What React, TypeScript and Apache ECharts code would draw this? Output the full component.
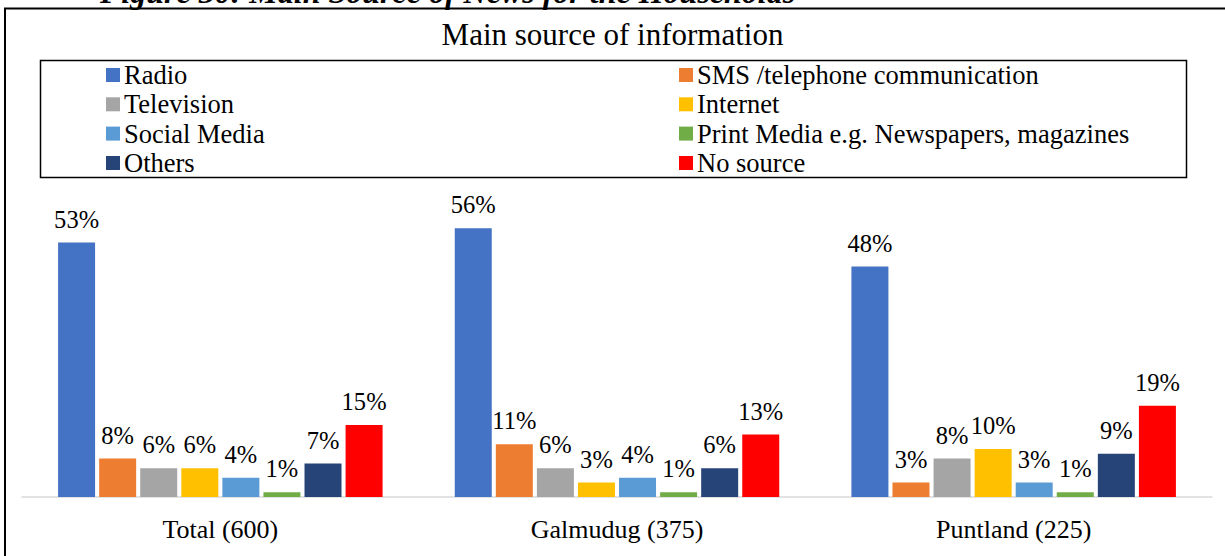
import React, { useEffect, useRef } from "react";
import * as echarts from "echarts";

const categories = ["Total (600)", "Galmudug (375)", "Puntland (225)"];
const seriesNames = [
  "Radio",
  "SMS /telephone communication",
  "Television",
  "Internet",
  "Social Media",
  "Print Media e.g. Newspapers, magazines",
  "Others",
  "No source",
];
const radio = [53, 56, 48];
const sms = [8, 11, 3];
const television = [6, 6, 8];
const internet = [6, 3, 10];
const socialMedia = [4, 4, 3];
const printMedia = [1, 1, 1];
const others = [7, 6, 9];
const noSource = [15, 13, 19];
const seriesValues = [radio, sms, television, internet, socialMedia, printMedia, others, noSource];
const colors = ["#4472C4", "#ED7D31", "#A5A5A5", "#FFC000", "#5B9BD5", "#70AD47", "#264478", "#FF0000"];
// legend layout: two columns, row-major order
const legendColumns = [106, 679];
const legendRows = [75, 104.3, 133.6, 163];

const FONT = "Liberation Serif";
const BASE = 40; // texts are drawn at this size and scaled down

function scaledText(text: string, x: number, y: number, size: number, align: string, vAlign: string) {
  const k = size / BASE;
  return {
    type: "text",
    x,
    y,
    scaleX: k,
    scaleY: k,
    style: {
      text,
      font: `${BASE}px ${FONT}`,
      fill: "#000",
      align,
      verticalAlign: vAlign,
    },
  };
}

export default function App() {
  const ref = useRef<HTMLDivElement>(null);
  useEffect(() => {
    document.body.style.margin = "0";
    const chart = echarts.init(ref.current!, null, { renderer: "svg" });
    chart.setOption({
      animation: false,
      backgroundColor: "#fff",
      textStyle: { fontFamily: FONT },
      title: {
        text: "Main source of information",
        left: "center",
        top: 14,
        textStyle: { fontFamily: FONT, fontSize: 31, fontWeight: "normal", color: "#000" },
      },
      grid: { left: 22, right: 13, top: 209, bottom: 59, containLabel: false },
      xAxis: {
        type: "category",
        data: categories,
        axisLine: { lineStyle: { color: "#D9D9D9", width: 1.5 } },
        axisTick: { show: false },
        axisLabel: { show: false },
      },
      yAxis: {
        type: "value",
        min: 0,
        max: 60,
        show: false,
        splitLine: { show: false },
      },
      series: seriesNames.map((name, i) => ({
        name,
        type: "bar",
        data: seriesValues[i],
        barWidth: 37,
        barGap: "11%",
        itemStyle: { color: colors[i] },
      })),
    });

    const graphics: any[] = [
      {
        type: "text",
        left: 100,
        top: -24,
        style: {
          text: "Figure 30: Main Source of News for the Households",
          font: `italic bold 32px ${FONT}`,
          fill: "#000",
        },
      },
      {
        type: "rect",
        shape: { x: 5, y: 8.5, width: 1240, height: 560 },
        style: { fill: "none", stroke: "#000", lineWidth: 2 },
        silent: true,
      },
      {
        type: "rect",
        shape: { x: 40.5, y: 60.5, width: 1146, height: 117 },
        style: { fill: "none", stroke: "#000", lineWidth: 1.5 },
        silent: true,
      },
    ];

    // legend entries
    seriesNames.forEach((name, i) => {
      const cx = legendColumns[i % 2];
      const cy = legendRows[Math.floor(i / 2)];
      graphics.push({
        type: "rect",
        shape: { x: cx, y: cy - 7, width: 14, height: 14 },
        style: { fill: colors[i] },
        silent: true,
      });
      graphics.push(scaledText(name, cx + 18, cy, 26.5, "left", "middle"));
    });

    // category labels placed through the category axis scale
    const base = chart.convertToPixel({ yAxisIndex: 0 }, 0) as number;
    categories.forEach((c) => {
      const px = chart.convertToPixel({ xAxisIndex: 0 }, c) as number;
      graphics.push(scaledText(c, px, base + 32, 26, "center", "middle"));
    });

    // value labels placed on the bars laid out by the library
    const model = (chart as any).getModel();
    seriesNames.forEach((_, i) => {
      const data = model.getSeriesByIndex(i).getData();
      seriesValues[i].forEach((v, j) => {
        const l = data.getItemLayout(j);
        if (!l) return;
        const top = Math.min(l.y, l.y + l.height);
        graphics.push(scaledText(`${v}%`, l.x + l.width / 2, top - 11, 24.5, "center", "bottom"));
      });
    });

    chart.setOption({ graphic: graphics });
    return () => chart.dispose();
  }, []);
  return <div ref={ref} style={{ width: 1225, height: 556 }} />;
}
